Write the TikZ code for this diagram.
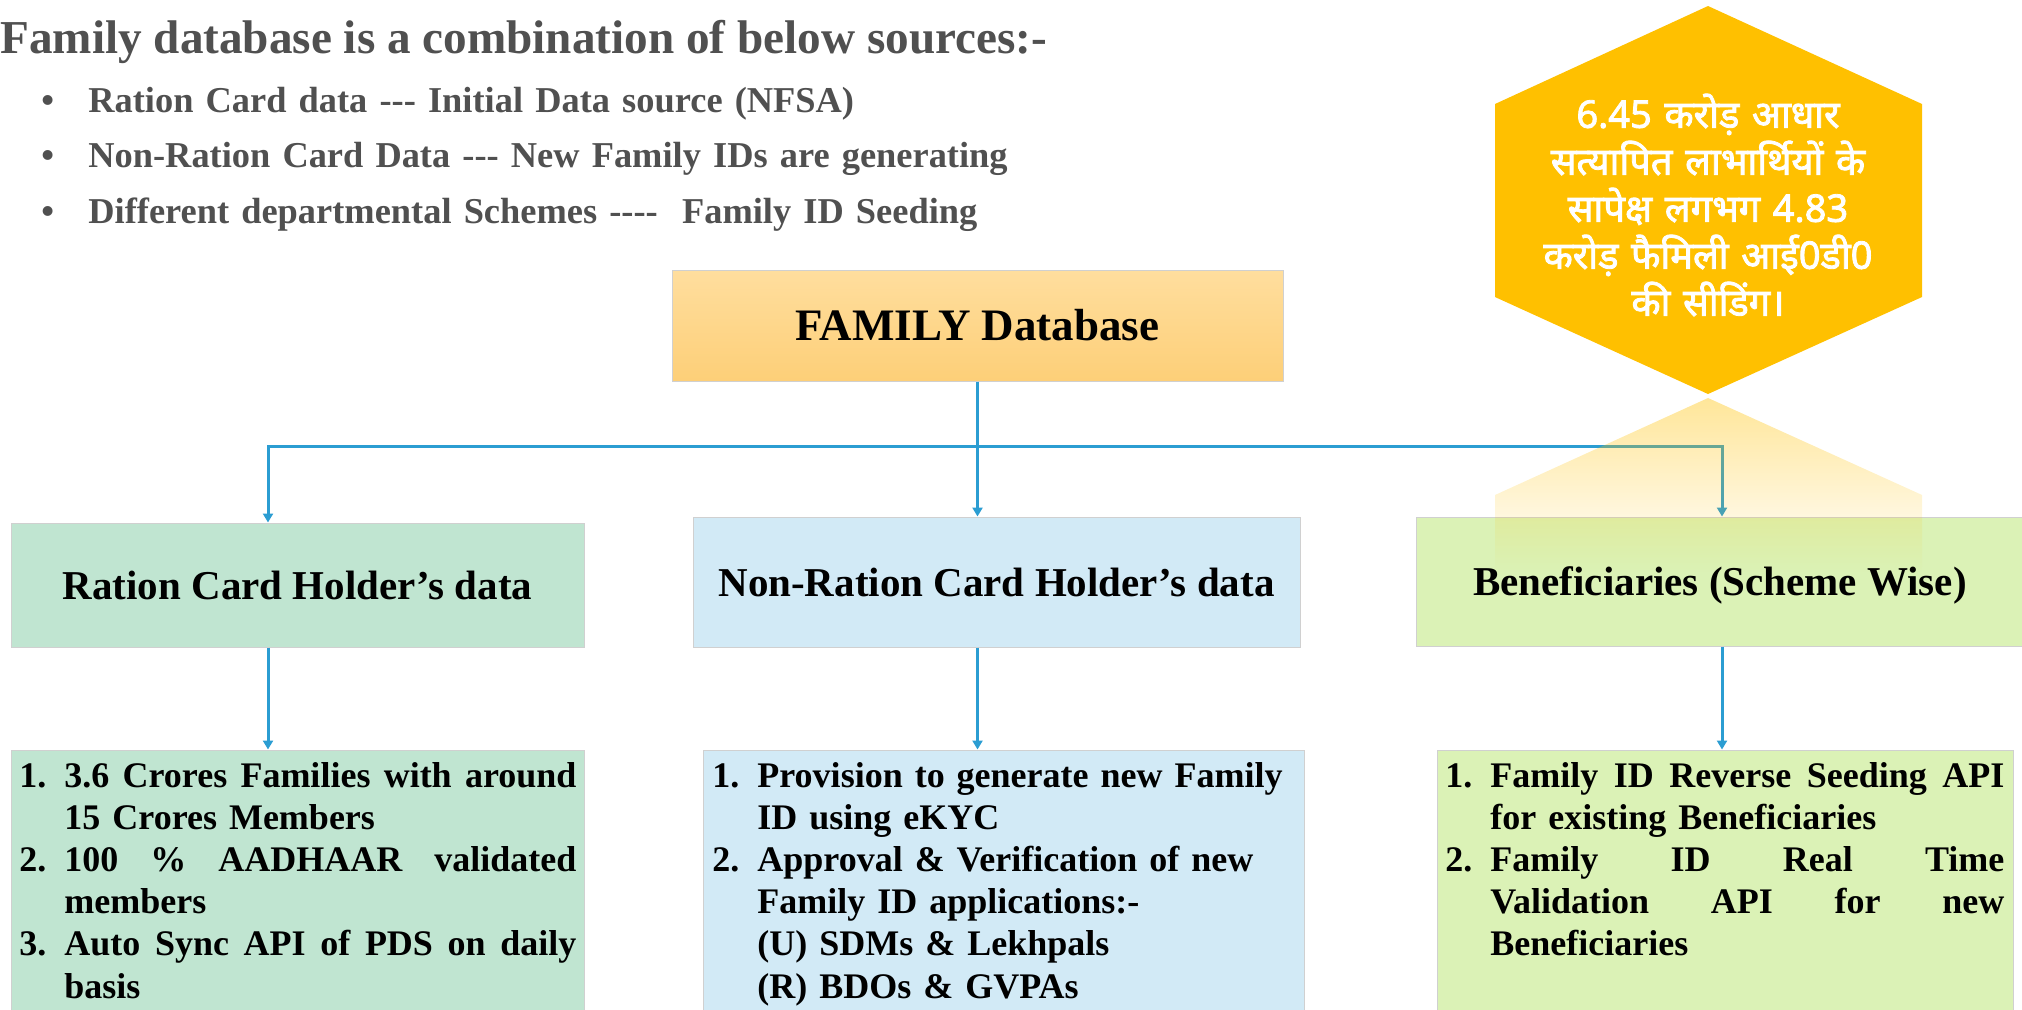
\documentclass[tikz,border=0pt]{standalone}
\usepackage{fontspec}
\setmainfont{Liberation Serif}
\newfontfamily\hindifont[Script=Devanagari, FakeBold=2.2]{Noto Sans}
\usetikzlibrary{arrows.meta,fadings}

\definecolor{headgray}{HTML}{505050}
\definecolor{linkblue}{HTML}{2B9DD2}
\definecolor{hexgold}{HTML}{FFC000}
\definecolor{famtop}{HTML}{FFDE9E}
\definecolor{fambot}{HTML}{FDCF78}
\definecolor{ratgreen}{HTML}{C0E5D1}
\definecolor{nonratblue}{HTML}{D2EAF6}
\definecolor{benlime}{HTML}{DBF2B6}
\definecolor{boxline}{HTML}{D0D0D0}

\tikzfading[name=hexreflect, top color=transparent!60, bottom color=transparent!100]

% numbered lines: number column, blank column, spread-out line
\newcommand\itemnum[1]{\makebox[22.5pt][l]{#1}}
\newcommand\itemgap{\hspace*{22.5pt}}
\newcommand\fullline[2]{\makebox[#1][s]{\spaceskip=0pt\xspaceskip=0pt\relax #2}}

\tikzset{
  box/.style={draw=boxline, line width=0.5pt, inner sep=0pt},
  hdr/.style={box, font=\bfseries\fontsize{20.5}{24}\selectfont, text depth=0pt},
  lst/.style={anchor=base west, inner sep=0pt, align=left,
    font=\bfseries\fontsize{18}{21.1}\selectfont},
  link/.style={draw=linkblue, line width=1.5pt},
  tip/.style={-{Triangle[length=4.5pt,width=5pt]}},
  twotips/.style={{Triangle[length=4.5pt,width=5pt]}-{Triangle[length=4.5pt,width=5pt]}},
}

\begin{document}
\begin{tikzpicture}[x=0.5pt,y=-0.5pt]
\useasboundingbox (0,0) rectangle (2022,1009);

% sources list
\node[anchor=base west, inner sep=0pt, text=headgray,
  font=\bfseries\fontsize{23.6}{27}\selectfont] (title) at (0,53)
  {Family database is a combination of below sources:-};
\node[anchor=base west, inner sep=0pt, text=headgray, align=left, text width=560pt,
  font=\bfseries\fontsize{18.2}{27.75}\selectfont] (sources) at (41,112)
  {\makebox[23.5pt][l]{•}Ration Card data {-}{-}{-} Initial Data source (NFSA)\\
   \makebox[23.5pt][l]{•}Non-Ration Card Data {-}{-}{-} New Family IDs are generating\\
   \makebox[23.5pt][l]{•}Different departmental Schemes {-}{-}{-}{-}\ \ Family ID Seeding};

% seeding hexagon
\fill[hexgold] (1708,6) -- (1922,104) -- (1922,297) -- (1708,394) -- (1495,297) -- (1495,104) -- cycle;
\node[text=white, align=center, text width=210pt,
  font=\hindifont\fontsize{19}{23.5}\selectfont] (hexnote) at (1708,205)
  {6.45 करोड़ आधार\\ सत्यापित लाभार्थियों के\\ सापेक्ष लगभग 4.83\\ करोड़ फैमिली आई0डी0\\ की सीडिंग।};

% top box
\node[box, top color=famtop, bottom color=fambot, minimum width=305.5pt, minimum height=55.5pt,
  font=\bfseries\fontsize{22.5}{26}\selectfont] (fam) at (977.5,325.5) {FAMILY Database};

% second row
\node[hdr, fill=ratgreen, minimum width=286.5pt, minimum height=62pt] (rat) at (297.5,585) {Ration Card Holder’s data};
\node[hdr, fill=nonratblue, minimum width=303.5pt, minimum height=65pt] (nonrat) at (996.5,582) {Non-Ration Card Holder’s data};
\node[hdr, fill=benlime, minimum width=304pt, minimum height=64.5pt] (ben) at (1720,581.5) {Beneficiaries (Scheme Wise)};

% third row
\node[box, fill=ratgreen, minimum width=286.5pt, minimum height=132.5pt] (ratlist) at (297.5,882.5) {};
\node[box, fill=nonratblue, minimum width=300.5pt, minimum height=132.5pt] (nonratlist) at (1003.5,882.5) {};
\node[box, fill=benlime, minimum width=288pt, minimum height=132.5pt] (benlist) at (1725,882.5) {};

\node[lst, text width=278.5pt] (ratitems) at (19,787)
  {\itemnum{1.}\fullline{256pt}{3.6 Crores Families with around}\\
   \itemgap 15 Crores Members\\
   \itemnum{2.}\fullline{256pt}{100 \% AADHAAR validated}\\
   \itemgap members\\
   \itemnum{3.}\fullline{256pt}{Auto Sync API of PDS on daily}\\
   \itemgap basis};
\node[lst, text width=292.5pt] (nonratitems) at (712,787)
  {\itemnum{1.}Provision to generate new Family\\
   \itemgap ID using eKYC\\
   \itemnum{2.}Approval \& Verification of new\\
   \itemgap Family ID applications:-\\
   \itemgap (U) SDMs \& Lekhpals\\
   \itemgap (R) BDOs \& GVPAs};
\node[lst, text width=279.5pt] (benitems) at (1445,787)
  {\itemnum{1.}\fullline{257pt}{Family ID Reverse Seeding API}\\
   \itemgap for existing Beneficiaries\\
   \itemnum{2.}\fullline{257pt}{Family ID Real Time}\\
   \itemgap\fullline{257pt}{Validation API for new}\\
   \itemgap Beneficiaries};

% connectors
\coordinate (busL) at (268,446);
\coordinate (busR) at (1722,446);
\draw[link, tip] (fam.south) -- (fam.south |- nonrat.north);
\draw[link, twotips] (busL |- rat.north) -- (busL) -- (busR) -- (busR |- ben.north);
\draw[link, tip] (busL |- rat.south) -- (busL |- ratlist.north);
\draw[link, tip] (fam.south |- nonrat.south) -- (fam.south |- nonratlist.north);
\draw[link, tip] (busR |- ben.south) -- (busR |- benlist.north);

% mirror image of the hexagon
\fill[hexgold, path fading=hexreflect] (1708,398) -- (1922,495) -- (1922,572) -- (1495,572) -- (1495,495) -- cycle;
\end{tikzpicture}
\end{document}
